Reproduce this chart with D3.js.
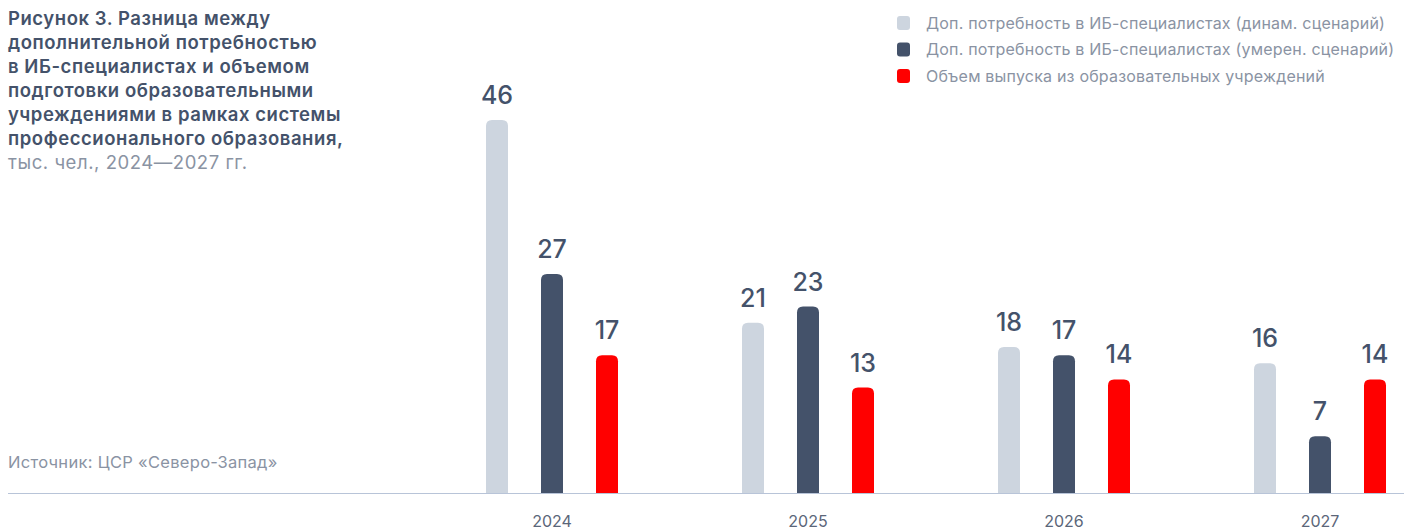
<!DOCTYPE html>
<html>
<head>
<meta charset="utf-8">
<script src="https://cdn.jsdelivr.net/npm/d3@7/dist/d3.min.js"></script>
<style>
  html, body { margin: 0; padding: 0; background: #ffffff; }
  svg { display: block; font-family: Inter, "Noto Sans", sans-serif; }
</style>
</head>
<body>
<svg id="chart" width="1419" height="530"></svg>
<script>
// Years on the x axis
const years = ["2024", "2025", "2026", "2027"];
// Additional demand for infosec specialists, dynamic scenario (thousand people)
const demandDynamic = [46, 21, 18, 16];
// Additional demand, moderate scenario
const demandModerate = [27, 23, 17, 7];
// Graduates from educational institutions
const graduates = [17, 13, 14, 14];

const seriesNames = [
  "Доп. потребность в ИБ-специалистах (динам. сценарий)",
  "Доп. потребность в ИБ-специалистах (умерен. сценарий)",
  "Объем выпуска из образовательных учреждений"
];
const seriesKeys = ["dyn", "mod", "grad"];
const colors = ["#cdd5df", "#44526a", "#ff0000"];

const titleLines = [
  "Рисунок 3. Разница между",
  "дополнительной потребностью",
  "в ИБ-специалистах и объемом",
  "подготовки образовательными",
  "учреждениями в рамках системы",
  "профессионального образования,"
];
const titleTail = "тыс. чел., 2024—2027 гг.";
const sourceText = "Источник: ЦСР «Северо-Запад»";

const rows = years.map((y, i) => ({
  year: y, dyn: demandDynamic[i], mod: demandModerate[i], grad: graduates[i]
}));

const svg = d3.select("#chart");
const baseY = 493;

// Year groups, 256px apart; series offsets inside a group
const x0 = d3.scaleBand().domain(years).range([424, 1448]);
const x1 = d3.scalePoint().domain(seriesKeys).range([-55, 55]);
const y = d3.scaleLinear().domain([0, 46]).range([baseY, 120]);
const color = d3.scaleOrdinal().domain(seriesKeys).range(colors);
const cx = yr => x0(yr) + x0.bandwidth() / 2;

// Title block
const title = svg.append("text").attr("x", 8).attr("y", 25)
  .attr("fill", "#44526a").style("font-size", "18.5px").style("font-weight", 600)
  .style("letter-spacing", "0.55px");
titleLines.forEach((t, i) => {
  title.append("tspan").attr("x", 8).attr("dy", i === 0 ? 0 : 24).text(t);
});
title.append("tspan").attr("x", 8).attr("dy", 24)
  .attr("fill", "#8a93a3").style("font-weight", 400).text(titleTail);

// Legend
const legend = svg.append("g").attr("transform", "translate(897,0)");
seriesNames.forEach((name, i) => {
  const g = legend.append("g").attr("transform", `translate(0,${23 + i * 26.5})`);
  g.append("rect").attr("x", 0).attr("y", -7).attr("width", 13).attr("height", 14)
    .attr("rx", 3).attr("fill", colors[i]);
  g.append("text").attr("x", 29).attr("y", 5.5).attr("fill", "#8a93a3")
    .style("font-size", "16px").style("letter-spacing", "0.2px").text(name);
});

// Source note
svg.append("text").attr("x", 8).attr("y", 468).attr("fill", "#8a93a3")
  .style("font-size", "16.5px").style("letter-spacing", "0.3px").text(sourceText);

// Bars with rounded tops
function topRounded(x, yTop, w, h, r) {
  r = Math.min(r, h, w / 2);
  return `M${x},${yTop + h}V${yTop + r}Q${x},${yTop} ${x + r},${yTop}H${x + w - r}Q${x + w},${yTop} ${x + w},${yTop + r}V${yTop + h}Z`;
}

const groups = svg.append("g").selectAll("g").data(rows).join("g")
  .attr("transform", d => `translate(${cx(d.year)},0)`);

const bw = 22;
groups.selectAll("path").data(d => seriesKeys.map(k => ({ key: k, value: d[k] })))
  .join("path")
  .attr("d", d => topRounded(x1(d.key) - bw / 2, y(d.value), bw, baseY - y(d.value), 6))
  .attr("fill", d => color(d.key));

groups.selectAll("text.val").data(d => seriesKeys.map(k => ({ key: k, value: d[k] })))
  .join("text").attr("class", "val")
  .attr("x", d => x1(d.key))
  .attr("y", d => y(d.value) - 16)
  .attr("text-anchor", "middle")
  .attr("fill", "#44526a")
  .style("font-size", "25px").style("font-weight", 500)
  .text(d => d.value);

// Baseline
svg.append("line").attr("x1", 8).attr("x2", 1404).attr("y1", baseY + 0.5).attr("y2", baseY + 0.5)
  .attr("stroke", "#b8c4d8").attr("stroke-width", 1);

// Year labels
svg.append("g").selectAll("text").data(years).join("text")
  .attr("x", d => cx(d))
  .attr("y", 527)
  .attr("text-anchor", "middle")
  .attr("fill", "#5b6679")
  .style("font-size", "16px")
  .text(d => d);
</script>
</body>
</html>
